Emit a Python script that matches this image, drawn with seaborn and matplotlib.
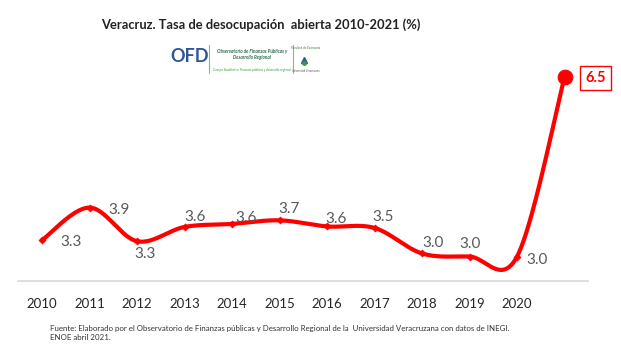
import numpy as np
import pandas as pd
import matplotlib.pyplot as plt
import seaborn as sns
from matplotlib.lines import Line2D

# ── DATA ────────────────────────────────────────────────────────────────
years = [2010, 2011, 2012, 2013, 2014, 2015, 2016, 2017, 2018, 2019, 2020, 2021]
tasa = [3.30, 3.94, 3.28, 3.56, 3.62, 3.69, 3.57, 3.54, 3.04, 2.98, 2.98, 6.50]
tick_years = [2010, 2011, 2012, 2013, 2014, 2015, 2016, 2017, 2018, 2019, 2020]

title = "Veracruz. Tasa de desocupación  abierta 2010-2021 (%)"
fuente = ("Fuente: Elaborado por el Observatorio de Finanzas públicas y Desarrollo Regional de la  "
          "Universidad Veracruzana con datos de INEGI.\nENOE abril 2021.")

# label offsets in pixels (dx, dy)
label_off = [(29, -2), (30, -2), (8, -13), (11, 10), (14, 6), (10, 11),
             (9, 7), (8, 11), (11, 10), (0, 13), (20, -3), (31, -1)]

df = pd.DataFrame({'year': years, 'tasa': tasa})


# smooth curve like Excel (Catmull-Rom as cubic bezier)
def smooth(x, y, n=40):
    P = np.column_stack([x, y]).astype(float)
    out = []
    for i in range(len(P) - 1):
        p0 = P[max(i - 1, 0)]
        p1 = P[i]
        p2 = P[i + 1]
        p3 = P[min(i + 2, len(P) - 1)]
        c1 = p1 + (p2 - p0) / 6
        c2 = p2 - (p3 - p1) / 6
        t = np.linspace(0, 1, n)[:, None]
        seg = ((1 - t) ** 3) * p1 + 3 * ((1 - t) ** 2) * t * c1 + 3 * (1 - t) * t ** 2 * c2 + t ** 3 * p2
        out.append(seg if i == 0 else seg[1:])
    seg = np.vstack(out)
    return pd.DataFrame({'year': seg[:, 0], 'tasa': seg[:, 1]})


curve = smooth(df['year'], df['tasa'])

sns.set_theme(style='white')
plt.rcParams['font.family'] = ['Lato', 'DejaVu Sans']

fig = plt.figure(figsize=(6.21, 3.59), dpi=100)
ax = fig.add_axes([0.0294, 0.2173, 0.918, 0.639])

red = '#ff0000'
sns.lineplot(data=curve, x='year', y='tasa', sort=False, color=red, lw=3, ax=ax)
sns.scatterplot(data=df.iloc[:-1], x='year', y='tasa', marker='D', s=14,
                color=red, edgecolor=red, ax=ax, zorder=3)
sns.scatterplot(data=df.iloc[-1:], x='year', y='tasa', marker='o', s=110,
                color=red, edgecolor=red, ax=ax, zorder=3)

for i, (yr, v) in enumerate(zip(years, tasa)):
    dx, dy = label_off[i]
    if i == len(years) - 1:
        ax.annotate(f"{v:.1f}", (yr, v), xytext=(dx, dy), textcoords='offset pixels',
                    ha='center', va='center', fontsize=10.5, fontweight='bold', color=red,
                    bbox=dict(boxstyle='square,pad=0.35', fc='white', ec=red, lw=1))
    else:
        ax.annotate(f"{v:.1f}", (yr, v), xytext=(dx, dy), textcoords='offset pixels',
                    ha='center', va='center', fontsize=11, color='#595959')

ax.set_xlim(2009.5, 2021.5)
ax.set_ylim(2.5, 7.0)
ax.set_xticks(tick_years)
ax.set_xticklabels([str(t) for t in tick_years], fontsize=9.5, color='#262626')
ax.set_yticks([])
ax.set_xlabel('')
ax.set_ylabel('')
ax.tick_params(axis='x', length=0, pad=12)
for s in ['top', 'right', 'left']:
    ax.spines[s].set_visible(False)
ax.spines['bottom'].set_color('#d9d9d9')
ax.spines['bottom'].set_linewidth(1.2)

# title and logo block
fig.text(261 / 621, 1 - 25 / 359, title, ha='center', va='center',
         fontsize=9.3, fontweight='bold', color='#222222')
fig.text(190 / 621, 1 - 57 / 359, "OFD", ha='center', va='center',
         fontsize=13, fontweight='bold', color='#2f5597')
fig.add_artist(Line2D([209 / 621, 209 / 621], [1 - 45 / 359, 1 - 73 / 359], color='#7fbf7f', lw=0.8))
fig.add_artist(Line2D([293 / 621, 293 / 621], [1 - 45 / 359, 1 - 73 / 359], color='#7fbf7f', lw=0.8))
fig.text(252 / 621, 1 - 51 / 359, "Observatorio de Finanzas Públicas y", ha='center', va='center',
         fontsize=3.3, style='italic', fontweight='bold', color='#2e6b4f')
fig.text(252 / 621, 1 - 58 / 359, "Desarrollo Regional", ha='center', va='center',
         fontsize=3.3, style='italic', fontweight='bold', color='#2e6b4f')
fig.text(252 / 621, 1 - 70 / 359, "Cuerpo Académico: Finanzas públicas y desarrollo regional",
         ha='center', va='center', fontsize=2.2, color='#3a9a3a')
fig.text(306 / 621, 1 - 48 / 359, "Facultad de Economía", ha='center', va='center',
         fontsize=2.2, color='#3a7a3a')
fig.text(306 / 621, 1 - 71 / 359, "Universidad Veracruzana", ha='center', va='center',
         fontsize=1.8, color='#555555')
fig.add_artist(Line2D([304 / 621], [1 - 60 / 359], marker='^', ms=5, color='#2f5597'))
fig.add_artist(Line2D([304 / 621], [1 - 63 / 359], marker='o', ms=2.5, color='#3a9a3a'))

fig.text(50 / 621, 1 - 333 / 359, fuente, ha='left', va='center',
         fontsize=5.65, color='#333333', linespacing=1.35)

plt.savefig('out.png', dpi=100)
